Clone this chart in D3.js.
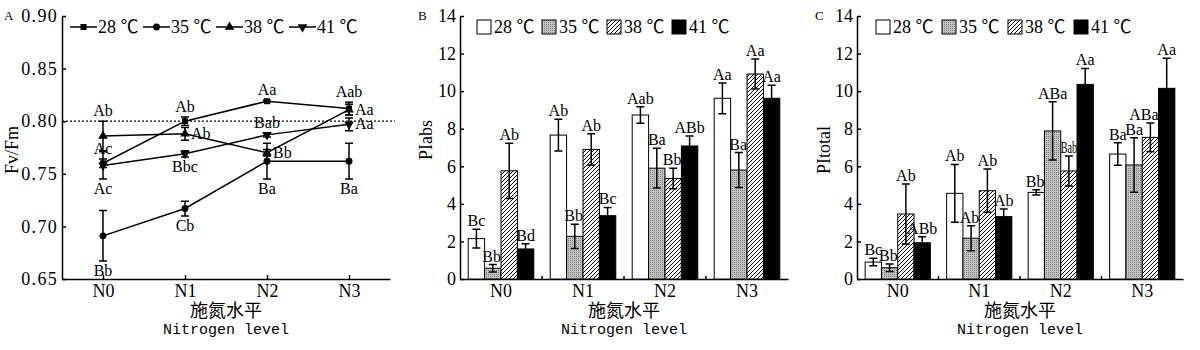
<!DOCTYPE html>
<html><head><meta charset="utf-8">
<script src="https://cdn.jsdelivr.net/npm/d3@7"></script>
<style>
body{margin:0;background:#fff;}
svg text{font-family:"Liberation Serif","Noto Sans CJK SC",serif;fill:#000;}
</style></head><body>
<svg id="chart" width="1200" height="350"></svg>
<script>
// ---------- data ----------
const categories = ["N0","N1","N2","N3"];
const temperatures = ["28 ℃","35 ℃","38 ℃","41 ℃"];

// Panel A : Fv/Fm
const fvfmTicks = [0.65,0.70,0.75,0.80,0.85,0.90];
const fvfm28 = [0.760,0.800,0.819,0.812];
const fvfm35 = [0.691,0.717,0.762,0.762];
const fvfm38 = [0.786,0.788,0.770,0.811];
const fvfm41 = [0.758,0.769,0.787,0.797];
const fvfmErr28 = [0.004,0.004,0.001,0.006];
const fvfmErr35 = [0.024,0.007,0.017,0.017];
const fvfmErr38 = [0.014,0.006,0.003,0.005];
const fvfmErr41 = [0.013,0.003,0.002,0.006];
const fvfmLetters28 = ["Ac","Ab","Aa","Aab"];
const fvfmLetters35 = ["Bb","Cb","Ba","Ba"];
const fvfmLetters38 = ["Ab","Ab","Bb","Aa"];
const fvfmLetters41 = ["Ac","Bbc","Bab","Aa"];
const fvfmSide28 = ["above","above","above","above"];
const fvfmSide35 = ["below","below","below","below"];
const fvfmSide38 = ["above","right","right","right"];
const fvfmSide41 = ["below","below","above","right"];
const fvfmReference = 0.80;

// Panel B : PIabs
const piTicks = [0,2,4,6,8,10,12,14];
const piabs28 = [2.15,7.66,8.73,9.62];
const piabs35 = [0.57,2.27,5.90,5.80];
const piabs38 = [5.76,6.90,5.35,10.91];
const piabs41 = [1.60,3.37,7.08,9.62];
const piabsErr28 = [0.50,0.84,0.44,0.82];
const piabsErr35 = [0.20,0.65,1.06,0.93];
const piabsErr38 = [1.47,0.83,0.55,0.80];
const piabsErr41 = [0.27,0.44,0.53,0.70];
const piabsLetters28 = ["Bc","Ab","Aab","Aa"];
const piabsLetters35 = ["Bb","Bb","Ba","Ba"];
const piabsLetters38 = ["Ab","Ab","Bb","Aa"];
const piabsLetters41 = ["Bd","Bc","ABb","Aa"];

// Panel C : PItotal
const pitot28 = [0.90,4.56,4.61,6.65];
const pitot35 = [0.60,2.17,7.88,6.07];
const pitot38 = [3.46,4.70,5.75,7.54];
const pitot41 = [1.93,3.32,10.36,10.15];
const pitotErr28 = [0.20,1.54,0.14,0.60];
const pitotErr35 = [0.20,0.66,1.55,1.45];
const pitotErr38 = [1.60,1.15,0.80,0.77];
const pitotErr41 = [0.32,0.40,0.85,1.60];
const pitotLetters28 = ["Bc","Ab","Bb","Ba"];
const pitotLetters35 = ["Bb","Ab","ABa","Ba"];
const pitotLetters38 = ["Ab","Ab","Bab","ABa"];
const pitotLetters41 = ["ABb","Ab","Aa","Aa"];

// ---------- drawing ----------
const svg = d3.select("#chart");
const defs = svg.append("defs");
const dots = defs.append("pattern").attr("id","dots").attr("patternUnits","userSpaceOnUse").attr("width",2).attr("height",2);
dots.append("rect").attr("width",2).attr("height",2).attr("fill","#c4c4c4");
dots.append("rect").attr("width",1).attr("height",1).attr("fill","#7a7a7a");
const hatch = defs.append("pattern").attr("id","hatch").attr("patternUnits","userSpaceOnUse").attr("width",4).attr("height",4);
hatch.append("rect").attr("width",4).attr("height",4).attr("fill","#fff");
hatch.append("path").attr("d","M-1,1 l2,-2 M0,4 l4,-4 M3,5 l2,-2").attr("stroke","#000").attr("stroke-width",1);

const Y0 = 279, Y1 = 16;
const fills = ["#fff","url(#dots)","url(#hatch)","#000"];
const LABEL_SIZE = 16;

function styleAxis(g){
  g.attr("font-family",null).attr("font-size",null);
  g.selectAll("path,line").attr("stroke","#000").attr("stroke-width",1.5);
  g.selectAll("text").style("font-size","18px");
}

function xTitles(cx){
  svg.append("text").attr("x",cx).attr("y",317).attr("text-anchor","middle")
    .style("font-family","'Noto Sans CJK SC'").style("font-size","18px").text("施氮水平");
  svg.append("text").attr("x",cx).attr("y",334).attr("text-anchor","middle")
    .style("font-family","'Liberation Mono',monospace").style("font-size","15px").text("Nitrogen level");
}
function yTitle(x,y,t){
  svg.append("text").attr("transform",`translate(${x},${y}) rotate(-90)`).attr("text-anchor","middle")
    .style("font-size","18px").text(t);
}
function panelLetter(x,t){
  svg.append("text").attr("x",x).attr("y",20).style("font-size","13px").text(t);
}

// ----- Panel A -----
(function(){
  const x = d3.scalePoint().domain(categories).range([62,390]).padding(0.5);
  const y = d3.scaleLinear().domain([0.65,0.90]).range([Y0,Y1]);
  const series = [
    {v:fvfm28,e:fvfmErr28,l:fvfmLetters28,s:fvfmSide28,sym:d3.symbolSquare,size:36,rot:0},
    {v:fvfm35,e:fvfmErr35,l:fvfmLetters35,s:fvfmSide35,sym:d3.symbolCircle,size:38,rot:0},
    {v:fvfm38,e:fvfmErr38,l:fvfmLetters38,s:fvfmSide38,sym:d3.symbolTriangle,size:40,rot:0},
    {v:fvfm41,e:fvfmErr41,l:fvfmLetters41,s:fvfmSide41,sym:d3.symbolTriangle,size:40,rot:180}
  ];
  svg.append("g").attr("transform",`translate(62,0)`)
    .call(d3.axisLeft(y).tickValues(fvfmTicks).tickFormat(d3.format(".2f")).tickSizeInner(-4).tickSizeOuter(0).tickPadding(4))
    .call(styleAxis).selectAll("text").style("letter-spacing","1.3px");
  svg.append("g").attr("transform",`translate(0,${Y0})`)
    .call(d3.axisBottom(x).tickSizeInner(-4).tickSizeOuter(0).tickPadding(5))
    .call(styleAxis);
  svg.append("line").attr("x1",62).attr("x2",395).attr("y1",y(fvfmReference)).attr("y2",y(fvfmReference))
    .attr("stroke","#000").attr("stroke-width",1.2).attr("stroke-dasharray","2,2");
  const line = d3.line().x((d,i)=>x(categories[i])).y(d=>y(d));
  series.forEach(s=>{
    svg.append("path").attr("d",line(s.v)).attr("fill","none").attr("stroke","#000").attr("stroke-width",1.5);
  });
  series.forEach(s=>{
    s.v.forEach((v,i)=>{
      const cx = x(categories[i]);
      const top = y(v+s.e[i]), bot = y(v-s.e[i]);
      svg.append("path").attr("d",`M${cx},${top}V${bot}M${cx-4},${top}H${cx+4}M${cx-4},${bot}H${cx+4}`)
        .attr("stroke","#000").attr("stroke-width",1.5).attr("fill","none");
      svg.append("path").attr("d",d3.symbol().type(s.sym).size(s.size)())
        .attr("transform",`translate(${cx},${y(v)}) rotate(${s.rot})`).attr("fill","#000");
      const side = s.s[i];
      let tx = cx, ty, anchor = "middle";
      if(side==="above"){ ty = top-5; }
      else if(side==="below"){ ty = bot+15; }
      else { tx = cx+6; ty = y(v)+5; anchor = "start"; }
      svg.append("text").attr("x",tx).attr("y",ty).attr("text-anchor",anchor)
        .style("font-size",LABEL_SIZE+"px").text(s.l[i]);
    });
  });
  // legend
  series.forEach((s,i)=>{
    const lx = 70 + i*73;
    svg.append("line").attr("x1",lx).attr("x2",lx+27).attr("y1",27).attr("y2",27).attr("stroke","#000").attr("stroke-width",1.5);
    svg.append("path").attr("d",d3.symbol().type(s.sym).size(s.size)())
      .attr("transform",`translate(${lx+13.5},27) rotate(${s.rot})`).attr("fill","#000");
    svg.append("text").attr("x",lx+28).attr("y",33).style("font-size","18px").text(temperatures[i]);
  });
  panelLetter(4,"A");
  yTitle(18,150,"Fv/Fm");
  xTitles(226);
})();

// ----- Bar panels -----
function barPanel(cfg){
  const x = d3.scaleBand().domain(categories).range([cfg.x0,cfg.x1]).paddingInner(0.2).paddingOuter(0.1);
  const xs = d3.scaleBand().domain(temperatures).range([0,x.bandwidth()]);
  const y = d3.scaleLinear().domain([0,14]).range([Y0,Y1]);
  svg.append("g").attr("transform",`translate(${cfg.x0},0)`)
    .call(d3.axisLeft(y).tickValues(piTicks).tickSizeInner(-4).tickSizeOuter(0).tickPadding(4))
    .call(styleAxis);
  svg.append("g").attr("transform",`translate(0,${Y0})`)
    .call(d3.axisBottom(x).tickSize(0).tickSizeOuter(0).tickPadding(5))
    .call(styleAxis);
  categories.slice(1).forEach(c=>{
    const bx = x(c) - x.step()*x.paddingInner()/2;
    svg.append("line").attr("x1",bx).attr("x2",bx).attr("y1",Y0).attr("y2",Y0-3).attr("stroke","#000").attr("stroke-width",1.5);
  });
  const w = xs.bandwidth();
  const barX = (si,i)=> x(categories[i]) + xs(temperatures[si]);
  cfg.values.forEach((vals,si)=>{
    vals.forEach((v,i)=>{
      svg.append("rect").attr("x",barX(si,i)).attr("y",y(v)).attr("width",w).attr("height",Y0-y(v))
        .attr("fill",fills[si]).attr("stroke","#000").attr("stroke-width",1);
    });
  });
  cfg.values.forEach((vals,si)=>{
    vals.forEach((v,i)=>{
      const cx = barX(si,i) + w/2;
      const e = cfg.errs[si][i];
      const top = y(v+e), bot = y(v-e);
      svg.append("path").attr("d",`M${cx},${top}V${bot}M${cx-4},${top}H${cx+4}M${cx-4},${bot}H${cx+4}`)
        .attr("stroke","#000").attr("stroke-width",1.5).attr("fill","none");
    });
  });
  // significance letters, nudged away from a taller neighbouring bar
  cfg.values.forEach((vals,si)=>{
    vals.forEach((v,i)=>{
      const cx = barX(si,i) + w/2;
      const top = y(v+cfg.errs[si][i]);
      const base = top-3;
      const t = svg.append("text").attr("x",cx).attr("y",base).attr("text-anchor","middle")
        .style("font-size",LABEL_SIZE+"px").text(cfg.letters[si][i]);
      const tw = t.node().getComputedTextLength();
      if(si<3){
        const nx = barX(si+1,i), ntop = y(cfg.values[si+1][i]);
        const overlap = cx + tw/2 - nx;
        if(overlap > 0 && ntop < base){
          const prevTop = si>0 ? y(cfg.values[si-1][i]) : Y0;
          const newLeft = nx - tw;
          if(overlap > 3 && newLeft < barX(si,i) - 3 && prevTop < base){
            t.attr("textLength",w).attr("lengthAdjust","spacingAndGlyphs");
          } else {
            t.attr("x",cx - overlap);
          }
        }
      }
    });
  });
  temperatures.forEach((tt,i)=>{
    const lx = cfg.legendX + i*cfg.legendStep;
    svg.append("rect").attr("x",lx).attr("y",20).attr("width",14).attr("height",14)
      .attr("fill",fills[i]).attr("stroke","#000").attr("stroke-width",1);
    svg.append("text").attr("x",lx+17).attr("y",33).style("font-size","18px").text(tt);
  });
  panelLetter(cfg.letterX,cfg.letter);
  yTitle(cfg.yTitleX,cfg.yTitleY,cfg.yTitle);
  xTitles((cfg.x0+cfg.x1)/2);
}

barPanel({x0:460,x1:788,values:[piabs28,piabs35,piabs38,piabs41],
  errs:[piabsErr28,piabsErr35,piabsErr38,piabsErr41],
  letters:[piabsLetters28,piabsLetters35,piabsLetters38,piabsLetters41],
  legendX:477,legendStep:65,letter:"B",letterX:418,yTitle:"PIabs",yTitleX:432,yTitleY:140});

barPanel({x0:857,x1:1183,values:[pitot28,pitot35,pitot38,pitot41],
  errs:[pitotErr28,pitotErr35,pitotErr38,pitotErr41],
  letters:[pitotLetters28,pitotLetters35,pitotLetters38,pitotLetters41],
  legendX:876,legendStep:66,letter:"C",letterX:815,yTitle:"PItotal",yTitleX:830,yTitleY:150});
</script>
</body></html>
